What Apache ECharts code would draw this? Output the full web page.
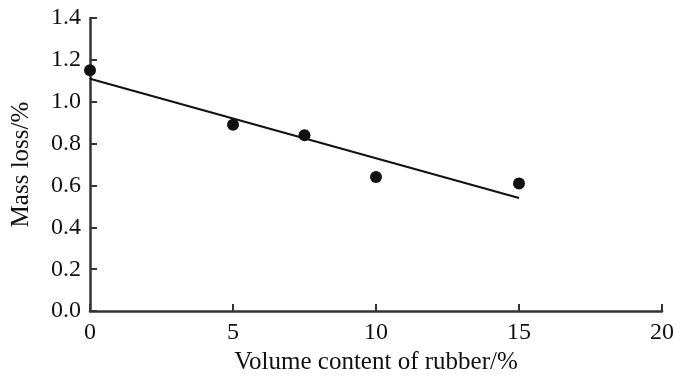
<!DOCTYPE html>
<html>
<head>
<meta charset="utf-8">
<script src="https://cdn.jsdelivr.net/npm/echarts@6/dist/echarts.min.js"></script>
<style>
  html, body { margin: 0; padding: 0; background: #fff; }
  #chart { width: 681px; height: 380px; }
</style>
</head>
<body>
<div id="chart"></div>
<script>
const rubberContent = [0, 5, 7.5, 10, 15];
const massLoss = [1.15, 0.89, 0.84, 0.64, 0.61];
const fitLine = [[0, 1.11], [15, 0.54]];

const chart = echarts.init(document.getElementById("chart"));
const font = "Liberation Serif";
const ink = "#111";

chart.setOption({
  animation: false,
  textStyle: { fontFamily: font, color: ink },
  grid: { left: 90, right: 19, top: 18, bottom: 68 },
  xAxis: {
    type: "value",
    min: 0,
    max: 20,
    interval: 5,
    name: "Volume content of rubber/%",
    nameLocation: "middle",
    nameGap: 31,
    nameTextStyle: { fontSize: 25, fontFamily: font, color: ink },
    axisLine: { lineStyle: { color: "#333", width: 2.5 } },
    axisTick: { inside: true, length: 7, lineStyle: { color: "#333", width: 2 } },
    axisLabel: { fontSize: 24, fontFamily: font, color: ink, margin: 10 },
    splitLine: { show: false }
  },
  yAxis: {
    type: "value",
    min: 0,
    max: 1.4,
    interval: 0.2,
    name: "Mass loss/%",
    nameLocation: "middle",
    nameGap: 56,
    nameTextStyle: { fontSize: 25, fontFamily: font, color: ink },
    axisLine: { show: true, lineStyle: { color: "#333", width: 2.5 } },
    axisTick: { show: true, inside: true, length: 7, lineStyle: { color: "#333", width: 2 } },
    axisLabel: {
      fontSize: 24, fontFamily: font, color: ink, margin: 9,
      formatter: v => v.toFixed(1)
    },
    splitLine: { show: false }
  },
  series: [
    {
      type: "scatter",
      data: rubberContent.map((x, i) => [x, massLoss[i]]),
      symbolSize: 12,
      itemStyle: { color: ink, opacity: 1 },
      z: 3
    },
    {
      type: "line",
      data: fitLine,
      symbol: "none",
      lineStyle: { color: ink, width: 2 },
      z: 2
    }
  ]
});
</script>
</body>
</html>
